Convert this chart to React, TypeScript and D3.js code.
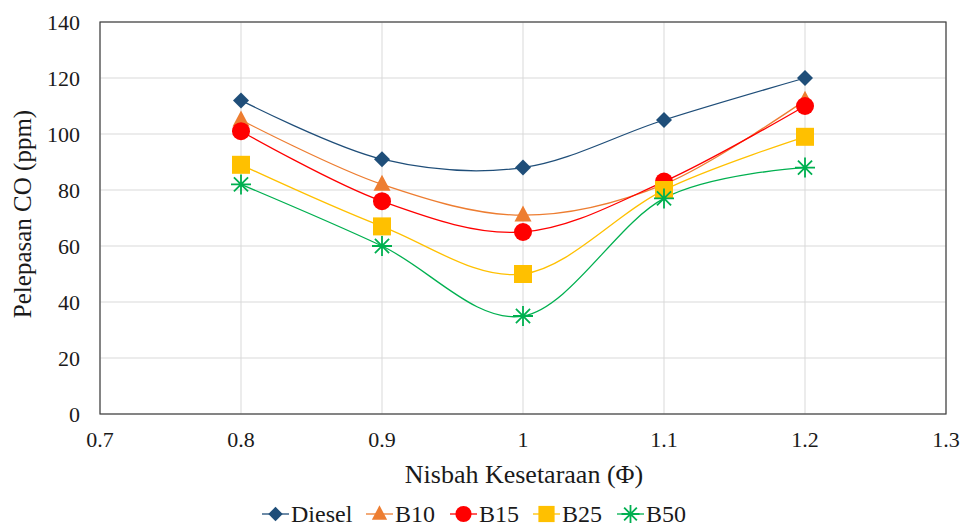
import React from "react";
import * as d3 from "d3";

const xValues = [0.8, 0.9, 1.0, 1.1, 1.2];
const seriesNames = ["Diesel", "B10", "B15", "B25", "B50"];
const diesel = [112, 91, 88, 105, 120];
const b10 = [105, 82, 71, 82, 112];
const b15 = [101, 76, 65, 83, 110];
const b25 = [89, 67, 50, 80, 99];
const b50 = [82, 60, 35, 77, 88];
const xTicks = [0.7, 0.8, 0.9, 1.0, 1.1, 1.2, 1.3];
const yTicks = [0, 20, 40, 60, 80, 100, 120, 140];

const colors = ["#1F4E79", "#ED7D31", "#FF0000", "#FFC000", "#00B050"];
const seriesData = [diesel, b10, b15, b25, b50];

const W = 962, H = 526;
const L = 100, R = 946, T = 22, B = 414;
const FONT = "'Liberation Serif', 'Times New Roman', serif";
const TXT = "#1a1a1a";

const x = d3.scaleLinear().domain([0.7, 1.3]).range([L, R]);
const y = d3.scaleLinear().domain([0, 140]).range([B, T]);

function Marker({ kind, cx, cy, color, k = 1 }: { kind: number; cx: number; cy: number; color: string; k?: number }) {
  if (kind === 0) {
    const s = 8 * k;
    return <path d={`M${cx},${cy - s}L${cx + s},${cy}L${cx},${cy + s}L${cx - s},${cy}Z`} fill={color} />;
  }
  if (kind === 1) {
    const s = 8.5 * k;
    const h = 16 * k;
    return <path d={`M${cx},${cy - h * 0.6}L${cx + s},${cy + h * 0.4}L${cx - s},${cy + h * 0.4}Z`} fill={color} />;
  }
  if (kind === 2) return <circle cx={cx} cy={cy} r={9 * k} fill={color} />;
  if (kind === 3) return <rect x={cx - 9 * k} y={cy - 9 * k} width={18 * k} height={18 * k} fill={color} />;
  const r = 10 * k;
  const lines = [0, 45, 90, 135].map((a) => {
    const rad = (a * Math.PI) / 180;
    return `M${cx - r * Math.cos(rad)},${cy - r * Math.sin(rad)}L${cx + r * Math.cos(rad)},${cy + r * Math.sin(rad)}`;
  });
  return <path d={lines.join("")} stroke={color} strokeWidth={1.8} fill="none" />;
}

export default function App() {
  const line = d3
    .line<number>()
    .x((_, i) => x(xValues[i]))
    .y((d) => y(d))
    .curve(d3.curveCardinal.tension(0));

  const legendItems = [
    { lx: 262, tx: 291 },
    { lx: 366, tx: 395 },
    { lx: 450, tx: 479 },
    { lx: 533, tx: 562 },
    { lx: 617, tx: 646 },
  ];

  return (
    <svg width={W} height={H} style={{ position: "absolute", left: 0, top: 0, background: "#fff" }} fontFamily={FONT}>
      {yTicks.map((t) => (
        <line key={"gy" + t} x1={L} x2={R} y1={y(t)} y2={y(t)} stroke="#d9d9d9" strokeWidth={1} />
      ))}
      {xTicks.map((t) => (
        <line key={"gx" + t} x1={x(t)} x2={x(t)} y1={T} y2={B} stroke="#d9d9d9" strokeWidth={1} />
      ))}
      <rect x={L} y={T} width={R - L} height={B - T} fill="none" stroke="#404040" strokeWidth={1.2} />
      {yTicks.map((t) => (
        <text key={"ty" + t} x={80} y={y(t) + 8} textAnchor="end" fontSize={22} fill={TXT}>
          {t}
        </text>
      ))}
      {xTicks.map((t) => (
        <text key={"tx" + t} x={x(t)} y={447} textAnchor="middle" fontSize={22} fill={TXT}>
          {d3.format("~g")(t)}
        </text>
      ))}
      <text x={524} y={483} textAnchor="middle" fontSize={26} fill={TXT}>
        Nisbah Kesetaraan (Φ)
      </text>
      <text transform={`translate(31,214) rotate(-90)`} textAnchor="middle" fontSize={25} fill={TXT}>
        Pelepasan CO (ppm)
      </text>
      {seriesData.map((s, si) => (
        <path key={"l" + si} d={line(s) || ""} fill="none" stroke={colors[si]} strokeWidth={1.3} />
      ))}
      {seriesData.map((s, si) =>
        s.map((v, i) => <Marker key={`m${si}-${i}`} kind={si} cx={x(xValues[i])} cy={y(v)} color={colors[si]} />)
      )}
      {seriesNames.map((n, si) => {
        const it = legendItems[si];
        const cy = 514;
        return (
          <g key={"lg" + n}>
            <line x1={it.lx} x2={it.lx + 27} y1={cy} y2={cy} stroke={colors[si]} strokeWidth={1.3} />
            <Marker kind={si} cx={it.lx + 13.5} cy={cy} color={colors[si]} k={0.9} />
            <text x={it.tx} y={522} fontSize={24} fill={TXT}>
              {n}
            </text>
          </g>
        );
      })}
    </svg>
  );
}
